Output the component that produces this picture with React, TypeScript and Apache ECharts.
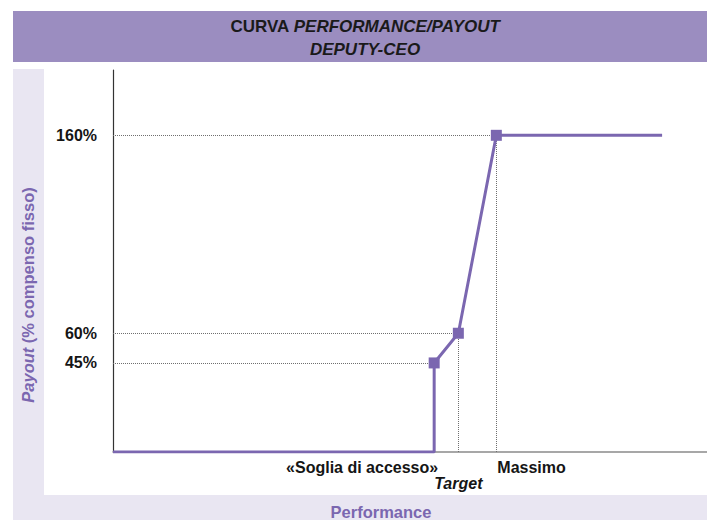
import React, { useEffect, useRef } from "react";
import * as echarts from "echarts";

// Curve points: performance (arbitrary units, target = 100) vs payout (% of fixed pay)
const performanceX = [0, 93, 93, 100, 111, 159];
const payoutY = [0, 0, 45, 60, 160, 160];
const markerPoints = [2, 3, 4];

const yTickValues = [45, 60, 160];
const xMarkLabels = ["«Soglia di accesso»", "Target", "Massimo"];
const xMarkValues = [93, 100, 111];

const titleLine1Plain = "CURVA ";
const titleLine1Italic = "PERFORMANCE/PAYOUT";
const titleLine2Italic = "DEPUTY-CEO";
const yTitleItalic = "Payout";
const yTitleRest = " (% compenso fisso)";
const xTitle = "Performance";

const PURPLE = "#7B67B0";
const FONT = "Liberation Sans, Arial, sans-serif";

export default function App() {
  const ref = useRef<HTMLDivElement>(null);

  useEffect(() => {
    if (!ref.current) return;
    const chart = echarts.init(ref.current, undefined, { renderer: "svg" });

    const seriesData = performanceX.map((x, i) => {
      const show = markerPoints.includes(i);
      return {
        value: [x, payoutY[i]],
        symbol: show ? "rect" : "none",
        symbolSize: show ? 11 : 0,
      };
    });

    const idx = (v: number) => payoutY.indexOf(v);
    const guide = (yv: number) => {
      const i = idx(yv);
      return [{ coord: [0, yv] }, { coord: [performanceX[i], yv] }];
    };
    const vguide = (xv: number) => {
      const i = performanceX.lastIndexOf(xv);
      return [{ coord: [xv, 0] }, { coord: [xv, payoutY[i]] }];
    };

    chart.setOption({
      animation: false,
      textStyle: { fontFamily: FONT },
      grid: { left: 113, right: 0, top: 70, bottom: 68 },
      xAxis: {
        type: "value",
        min: 0,
        max: 172,
        axisLine: { show: true, lineStyle: { color: "#8a8a8a", width: 1.5 } },
        axisTick: { show: false },
        axisLabel: { show: false },
        splitLine: { show: false },
      },
      yAxis: {
        type: "value",
        min: 0,
        max: 193,
        axisLine: { show: true, lineStyle: { color: "#333", width: 1.2 } },
        axisTick: { show: false },
        splitLine: { show: false },
        axisLabel: {
          customValues: yTickValues,
          formatter: "{value}%",
          color: "#151515",
          fontSize: 16,
          fontWeight: "bold",
          fontFamily: FONT,
          margin: 16,
          padding: [0, 0, 8, 0],
        },
      },
      series: [
        {
          type: "line",
          data: seriesData,
          lineStyle: { color: PURPLE, width: 3 },
          itemStyle: { color: PURPLE },
          z: 5,
          markLine: {
            silent: true,
            symbol: ["none", "none"],
            label: { show: false },
            lineStyle: { type: "dotted", color: "#6f6f6f", width: 1 },
            data: [
              guide(160),
              guide(60),
              guide(45),
              vguide(100),
              vguide(111),
            ],
          },
        },
      ],
    });

    const px = (x: number, y: number) =>
      chart.convertToPixel({ gridIndex: 0 }, [x, y]) as number[];
    const base = px(0, 0)[1];
    const aligns = ["right", "center", "left"];
    const offsets = [4, 0, 1];
    const dys = [15, 31, 15];

    chart.setOption({
      graphic: [
        {
          type: "text",
          x: 365,
          y: 37.5,
          style: {
            text:
              "{n|" + titleLine1Plain + "}{i|" + titleLine1Italic + "}\n{i|" + titleLine2Italic + "}",
            align: "center",
            verticalAlign: "middle",
            rich: {
              n: { fontSize: 17, fontWeight: "bold", fontFamily: FONT, fill: "#1a1a1a", lineHeight: 23 },
              i: { fontSize: 17, fontWeight: "bold", fontStyle: "italic", fontFamily: FONT, fill: "#1a1a1a", lineHeight: 23 },
            },
          },
        },
        {
          type: "text",
          x: 28,
          y: 295,
          rotation: Math.PI / 2,
          style: {
            text: "{i|" + yTitleItalic + "}{n|" + yTitleRest + "}",
            align: "center",
            verticalAlign: "middle",
            rich: {
              i: { fontSize: 16.5, fontWeight: "bold", fontStyle: "italic", fontFamily: FONT, fill: PURPLE },
              n: { fontSize: 16.5, fontWeight: "bold", fontFamily: FONT, fill: PURPLE },
            },
          },
        },
        {
          type: "text",
          x: 381,
          y: 512,
          style: {
            text: xTitle,
            align: "center",
            verticalAlign: "middle",
            fontSize: 16.5,
            fontWeight: "bold",
            fontFamily: FONT,
            fill: PURPLE,
          },
        },
        ...xMarkLabels.map((t, i) => ({
          type: "text",
          x: px(xMarkValues[i], 0)[0] + offsets[i],
          y: base + dys[i],
          style: {
            text: t,
            align: aligns[i],
            verticalAlign: "middle",
            fontSize: 16,
            fontWeight: "bold",
            fontStyle: i === 1 ? "italic" : "normal",
            fontFamily: FONT,
            fill: "#151515",
          },
        })),
      ],
    });

    return () => chart.dispose();
  }, []);

  return (
    <div style={{ position: "fixed", left: 0, top: 0, width: 707, height: 520, background: "#fff" }}>
      <div style={{ position: "absolute", left: 13, top: 11, width: 694, height: 51, background: "#9B8DC0" }} />
      <div style={{ position: "absolute", left: 13, top: 69, width: 694, height: 451, background: "#E9E6F2" }} />
      <div style={{ position: "absolute", left: 44, top: 69, width: 663, height: 426, background: "#fff" }} />
      <div ref={ref} style={{ position: "absolute", left: 0, top: 0, width: 707, height: 520 }} />
    </div>
  );
}
